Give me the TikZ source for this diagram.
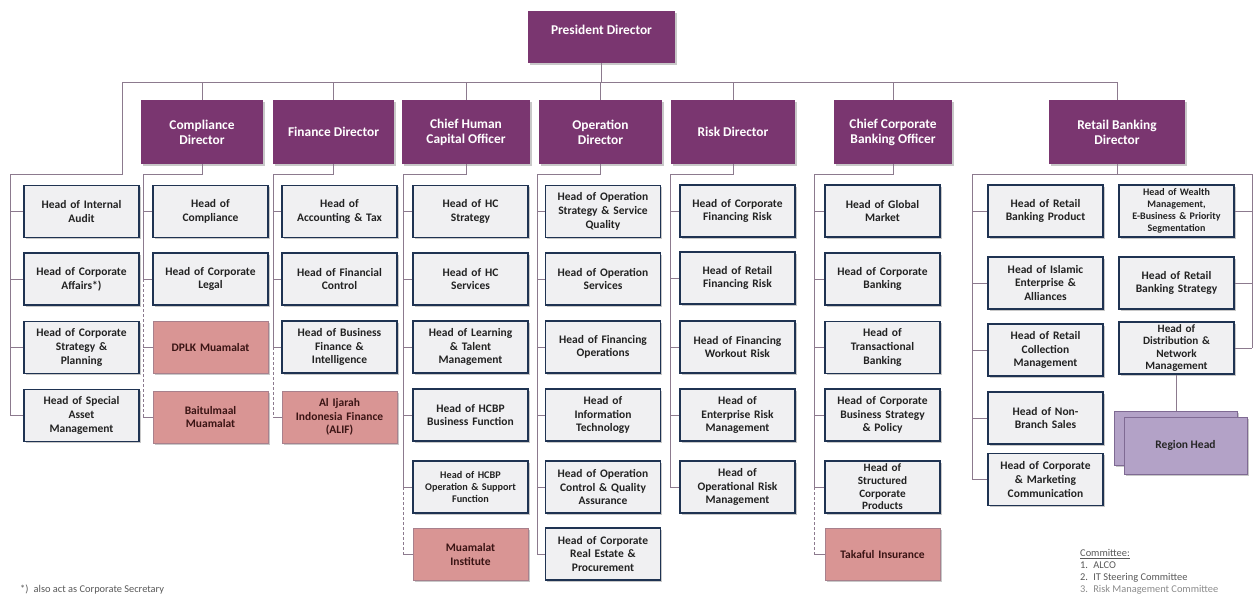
\documentclass[tikz,border=0pt]{standalone}
\usepackage{fontspec}
\setmainfont{Carlito}
\usetikzlibrary{shadows}
\definecolor{dirc}{HTML}{7A3670}
\definecolor{greyc}{HTML}{F0F0F2}
\definecolor{navyc}{HTML}{1F3352}
\definecolor{pinkc}{HTML}{D99594}
\definecolor{pinkbd}{HTML}{A8808C}
\definecolor{pinktxt}{HTML}{3A1414}
\definecolor{txtc}{HTML}{222222}
\definecolor{linec}{HTML}{8C7A8E}
\definecolor{regc}{HTML}{B3A2C7}
\definecolor{regbd}{HTML}{7F6A93}
\definecolor{notec}{HTML}{595959}
\begin{document}
\begin{tikzpicture}[x=1pt,y=-1pt,
  shad/.style={drop shadow={shadow xshift=1.5pt,shadow yshift=-1.5pt,opacity=0.3,fill=black!70}},
  dir/.style={fill=dirc,text=white,minimum height=64pt,inner sep=0pt,align=center,
    font=\fontsize{13.4pt}{15pt}\selectfont\bfseries,shad},
  hd/.style={draw=navyc,line width=1.5pt,fill=greyc,minimum width=115pt,minimum height=52pt,
    text width=108pt,align=center,inner sep=0pt,text=txtc,
    font=\fontsize{11.5pt}{13.7pt}\selectfont\bfseries,shad},
  hdfour/.style={hd,font=\fontsize{11.2pt}{12.6pt}\selectfont\bfseries},
  hdsmall/.style={hd,font=\fontsize{10.2pt}{12.2pt}\selectfont\bfseries},
  hdtiny/.style={hd,font=\fontsize{10pt}{12pt}\selectfont\bfseries},
  pk/.style={hd,draw=pinkbd,fill=pinkc,line width=1pt,text=pinktxt},
  reg/.style={fill=regc,draw=regbd,line width=1pt,minimum width=123pt,inner sep=0pt,
    text=black!85,font=\fontsize{11.5pt}{13.7pt}\selectfont\bfseries,shad},
  conn/.style={draw=linec,line width=0.8pt},
  dconn/.style={conn,dashed,dash pattern=on 3pt off 2pt},
  note/.style={inner sep=0pt,anchor=west,text=notec,font=\fontsize{10.4pt}{12pt}\selectfont}
]
\useasboundingbox (0,0) rectangle (1259,597);
\fill[white] (0,0) rectangle (1259,597);

% directors
\node[dir,minimum width=147pt,minimum height=52pt,text depth=14pt] (pres) at (601.5,37) {President Director};
\node[dir,minimum width=122pt] (d1) at (202,132) {Compliance\\Director};
\node[dir,minimum width=121pt] (d2) at (333.5,132) {Finance Director};
\node[dir,minimum width=128pt] (d3) at (466,132) {Chief Human\\Capital Officer};
\node[dir,minimum width=123pt] (d4) at (600.5,132) {Operation\\Director};
\node[dir,minimum width=124pt] (d5) at (733,132) {Risk Director};
\node[dir,minimum width=118pt] (d6) at (893,132) {Chief Corporate\\Banking Officer};
\node[dir,minimum width=136pt] (d7) at (1117,132) {Retail Banking\\Director};

% column 0
\node[hd] (a1) at (81.5,211.5) {Head of Internal\\Audit};
\node[hd] (a2) at (81.5,279) {Head of Corporate\\Affairs*)};
\node[hd] (a3) at (81.5,347.5) {Head of Corporate\\Strategy \&\\Planning};
\node[hd] (a4) at (81.5,415.5) {Head of Special\\Asset\\Management};
% column 1
\node[hd] (b1) at (210.5,211.5) {Head of\\Compliance};
\node[hd] (b2) at (210.5,279) {Head of Corporate\\Legal};
\node[pk] (b3) at (210.5,347.5) {DPLK Muamalat};
\node[pk] (b4) at (210.5,417) {Baitulmaal\\Muamalat};
% column 2
\node[hd] (c1) at (339.5,211.5) {Head of\\Accounting \& Tax};
\node[hd] (c2) at (339.5,279) {Head of Financial\\Control};
\node[hd] (c3) at (339.5,347) {Head of Business\\Finance \&\\Intelligence};
\node[pk] (c4) at (339.5,417) {Al Ijarah\\Indonesia Finance\\(ALIF)};
% column 3
\node[hd] (e1) at (470.5,211.5) {Head of HC\\Strategy};
\node[hd] (e2) at (470.5,279) {Head of HC\\Services};
\node[hd] (e3) at (470.5,347) {Head of Learning\\\& Talent\\Management};
\node[hd] (e4) at (470.5,415) {Head of HCBP\\Business Function};
\node[hdsmall] (e5) at (470.5,487) {Head of HCBP\\Operation \& Support\\Function};
\node[pk] (e6) at (470.5,554.5) {Muamalat\\Institute};
% column 4
\node[hd] (f1) at (603,211.5) {Head of Operation\\Strategy \& Service\\Quality};
\node[hd] (f2) at (603,279) {Head of Operation\\Services};
\node[hd] (f3) at (603,347) {Head of Financing\\Operations};
\node[hd] (f4) at (603,415) {Head of\\Information\\Technology};
\node[hd] (f5) at (603,487) {Head of Operation\\Control \& Quality\\Assurance};
\node[hd] (f6) at (603,554) {Head of Corporate\\Real Estate \&\\Procurement};
% column 5
\node[hd] (g1) at (737.5,211) {Head of Corporate\\Financing Risk};
\node[hd] (g2) at (737.5,278) {Head of Retail\\Financing Risk};
\node[hd] (g3) at (737.5,347) {Head of Financing\\Workout Risk};
\node[hd] (g4) at (737.5,415) {Head of\\Enterprise Risk\\Management};
\node[hd] (g5) at (737.5,487) {Head of\\Operational Risk\\Management};
% column 6
\node[hd] (h1) at (882.5,211) {Head of Global\\Market};
\node[hd] (h2) at (882.5,279) {Head of Corporate\\Banking};
\node[hd] (h3) at (882.5,347.5) {Head of\\Transactional\\Banking};
\node[hd] (h4) at (882.5,415) {Head of Corporate\\Business Strategy\\\& Policy};
\node[hdfour] (h5) at (882.5,487) {Head of\\Structured\\Corporate\\Products};
\node[pk] (h6) at (882.5,554.5) {Takaful Insurance};
% column 7
\node[hd] (r1) at (1045.5,211) {Head of Retail\\Banking Product};
\node[hd] (r2) at (1045.5,283) {Head of Islamic\\Enterprise \&\\Alliances};
\node[hd] (r3) at (1045.5,350) {Head of Retail\\Collection\\Management};
\node[hd] (r4) at (1045.5,418) {Head of Non-\\Branch Sales};
\node[hd] (r5) at (1045.5,479.5) {Head of Corporate\\\& Marketing\\Communication};
\node[hdtiny] (s1) at (1176.5,211) {Head of Wealth\\Management,\\E-Business \& Priority\\Segmentation};
\node[hd] (s2) at (1176.5,283) {Head of Retail\\Banking Strategy};
\node[hdfour] (s3) at (1176.5,348) {Head of\\Distribution \&\\Network\\Management};
\node[reg,minimum height=54pt] (rh2) at (1175.5,438) {};
\node[reg,minimum height=57pt] (rh) at (1185.5,445.5) {Region Head};

% top connectors
\coordinate (barL) at (122,82);
\coordinate (barR) at (1117,82);
\draw[conn] (barL) -- (barR);
\draw[conn] (pres.south) -- (pres.south |- barL);
\foreach \d in {d1,d2,d3,d4,d5,d6,d7}{
  \draw[conn] (\d.north) -- (\d.north |- barL);
}
% column 0
\coordinate (j0) at (10,174);
\draw[conn] (barL) -- (barL |- j0) -- (j0) -- (j0 |- a4.west);
\foreach \b in {a1,a2,a3,a4}{ \draw[conn] (j0 |- \b.west) -- (\b.west); }
% column 1
\coordinate (j1) at (143,174);
\draw[conn] (d1.south) -- (d1.south |- j1) -- (j1) -- (j1 |- b2.west);
\draw[dconn] (j1 |- b2.west) -- (j1 |- b4.west);
\foreach \b in {b1,b2,b3,b4}{ \draw[conn] (j1 |- \b.west) -- (\b.west); }
% column 2
\coordinate (j2) at (273,174);
\draw[conn] (d2.south) -- (d2.south |- j2) -- (j2) -- (j2 |- c3.west);
\draw[dconn] (j2 |- c3.west) -- (j2 |- c4.west);
\foreach \b in {c1,c2,c3,c4}{ \draw[conn] (j2 |- \b.west) -- (\b.west); }
% column 3
\coordinate (j3) at (403,174);
\draw[conn] (d3.south) -- (d3.south |- j3) -- (j3) -- (j3 |- e5.west);
\draw[dconn] (j3 |- e5.west) -- (j3 |- e6.west);
\foreach \b in {e1,e2,e3,e4,e5,e6}{ \draw[conn] (j3 |- \b.west) -- (\b.west); }
% column 4
\coordinate (j4) at (537,174);
\draw[conn] (d4.south) -- (d4.south |- j4) -- (j4) -- (j4 |- f6.west);
\foreach \b in {f1,f2,f3,f4,f5,f6}{ \draw[conn] (j4 |- \b.west) -- (\b.west); }
% column 5
\coordinate (j5) at (670,174);
\draw[conn] (d5.south) -- (d5.south |- j5) -- (j5) -- (j5 |- g5.west);
\foreach \b in {g1,g2,g3,g4,g5}{ \draw[conn] (j5 |- \b.west) -- (\b.west); }
% column 6
\coordinate (j6) at (814,174);
\draw[conn] (d6.south) -- (d6.south |- j6) -- (j6) -- (j6 |- h5.west);
\draw[dconn] (j6 |- h5.west) -- (j6 |- h6.west);
\foreach \b in {h1,h2,h3,h4,h5,h6}{ \draw[conn] (j6 |- \b.west) -- (\b.west); }
% column 7
\coordinate (j7) at (972,174);
\coordinate (j7r) at (1252,174);
\draw[conn] (d7.south) -- (d7.south |- j7);
\draw[conn] (j7 |- r5.west) -- (j7) -- (j7r) -- (j7r |- s3.east);
\foreach \b in {r1,r2,r3,r4,r5}{ \draw[conn] (j7 |- \b.west) -- (\b.west); }
\foreach \b in {s1,s2,s3}{ \draw[conn] (\b.east) -- (j7r |- \b.east); }
\draw[conn] (s3.south) -- (s3.south |- rh2.north);

% notes
\node[note] (fn) at (20,590) {*)\enspace also act as Corporate Secretary};
\node[note,align=left,anchor=north west] (cm) at (1080,549)
  {\underline{Committee:}\\1.\enspace ALCO\\2.\enspace IT Steering Committee\\\textcolor{black!45}{3.\enspace Risk Management Committee}};
\end{tikzpicture}
\end{document}
